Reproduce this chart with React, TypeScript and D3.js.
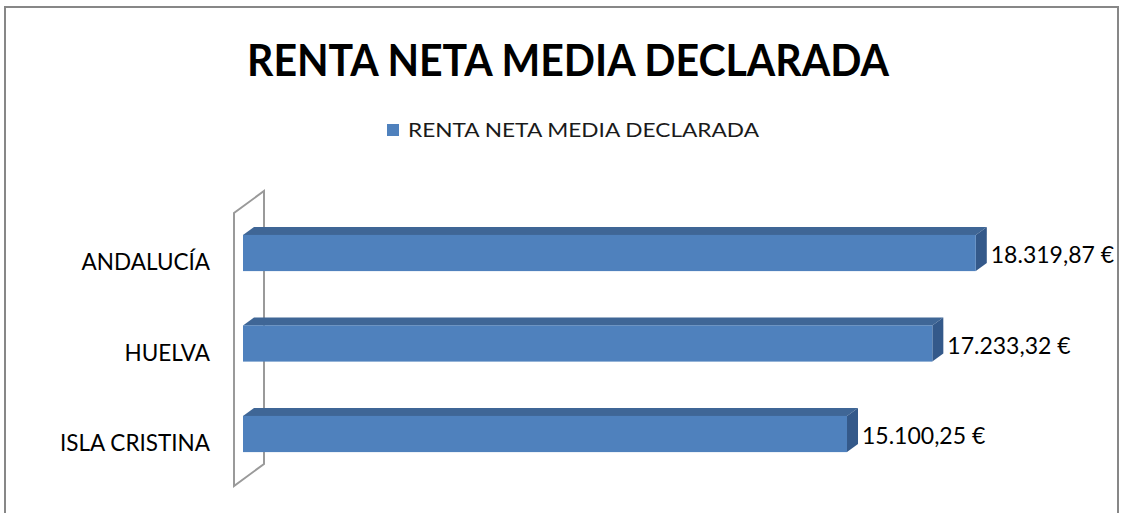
import React from "react";
import * as d3 from "d3";

const categories = ["ANDALUCÍA", "HUELVA", "ISLA CRISTINA"];
const values = [18319.87, 17233.32, 15100.25];
const valueLabels = ["18.319,87 €", "17.233,32 €", "15.100,25 €"];
const seriesName = "RENTA NETA MEDIA DECLARADA";
const title = "RENTA NETA MEDIA DECLARADA";

const width = 1121;
const height = 513;
const font = "Lato, 'Open Sans', sans-serif";

const App = () => {
    const xScale = d3.scaleLinear().domain([0, 20000]).range([243, 1043]);
    const yScale = d3
        .scaleBand<string>()
        .domain(categories)
        .range([207.75, 479.25])
        .paddingInner(0.6)
        .paddingOuter(0.3);

    // 3d depth offsets
    const dx = 11;
    const dy = -8;
    const wallDx = 30;
    const wallDy = -22;

    const x0 = xScale(0);
    const bw = yScale.bandwidth();
    const wallTop = 213;
    const wallBottom = 486;
    const wallX = 234;

    return (
        <svg
            width={width}
            height={height}
            style={{ position: "absolute", left: 0, top: 0, background: "white" }}
        >
            {/* chart frame */}
            <rect x={5} y={7} width={1113} height={520} fill="white" stroke="#878787" strokeWidth={2} />

            {/* title */}
            <text
                x={568}
                y={76}
                textAnchor="middle"
                fontFamily={font}
                fontWeight="bold"
                fontSize={44}
                textLength={642}
                lengthAdjust="spacingAndGlyphs"
                fill="#000"
            >
                {title}
            </text>

            {/* legend */}
            <rect x={387} y={124} width={12} height={12} fill="#4F81BD" />
            <text
                x={408}
                y={137}
                fontFamily={font}
                fontSize={20}
                textLength={351}
                lengthAdjust="spacingAndGlyphs"
                fill="#1a1a1a"
            >
                {seriesName}
            </text>

            {/* back wall / axis plane */}
            <path
                d={`M${wallX},${wallBottom} L${wallX},${wallTop} L${wallX + wallDx},${wallTop + wallDy} L${wallX + wallDx},${wallBottom + wallDy} Z`}
                fill="none"
                stroke="#9a9a9a"
                strokeWidth={2}
            />

            {/* bars */}
            {categories.map((c, i) => {
                const y = yScale(c) as number;
                const x1 = xScale(values[i]);
                return (
                    <g key={c}>
                        {/* top face */}
                        <path
                            d={`M${x0},${y} L${x0 + dx},${y + dy} L${x1 + dx},${y + dy} L${x1},${y} Z`}
                            fill="#3F6696"
                        />
                        {/* side face */}
                        <path
                            d={`M${x1},${y} L${x1 + dx},${y + dy} L${x1 + dx},${y + bw + dy} L${x1},${y + bw} Z`}
                            fill="#34598A"
                        />
                        {/* front face */}
                        <rect x={x0} y={y} width={x1 - x0} height={bw} fill="#4F81BD" />
                        <text
                            x={x1 + 15}
                            y={y + bw / 2 + 10}
                            fontFamily={font}
                            fontSize={23}
                            fill="#000"
                        >
                            {valueLabels[i]}
                        </text>
                        <text
                            x={210}
                            y={y + bw / 2 + 17}
                            textAnchor="end"
                            fontFamily={font}
                            fontSize={22.5}
                            fill="#000"
                        >
                            {c}
                        </text>
                    </g>
                );
            })}
        </svg>
    );
};

export default App;
